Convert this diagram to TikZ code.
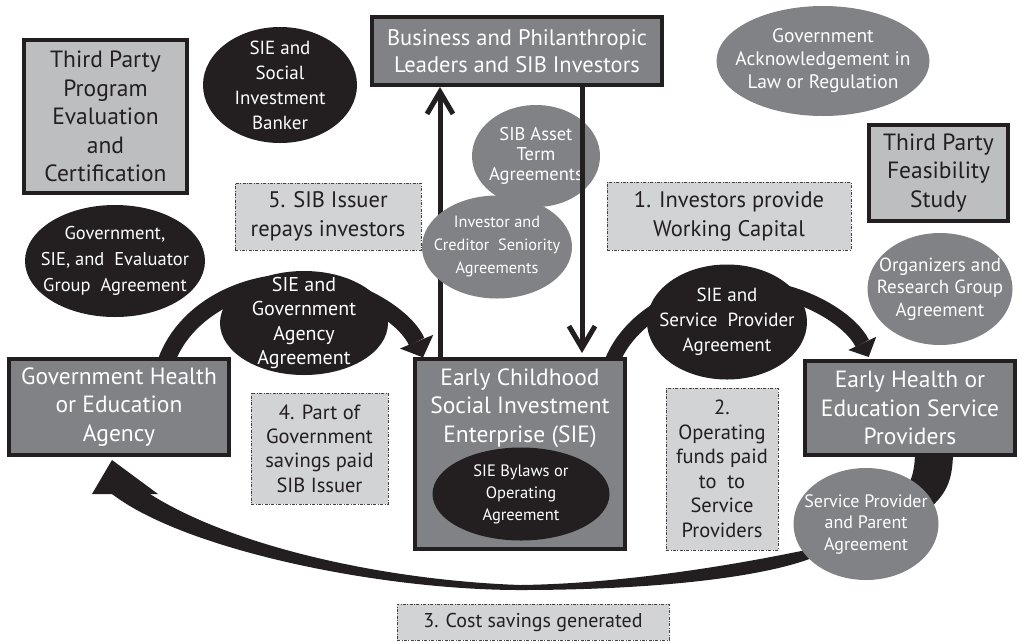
\documentclass[tikz,border=0pt]{standalone}
\usepackage{fontspec}
\setmainfont{PT Sans}
\usetikzlibrary{shapes.geometric,arrows.meta,backgrounds}

\definecolor{ink}{RGB}{35,31,32}
\definecolor{darkbox}{RGB}{128,130,133}
\definecolor{lightbox}{RGB}{188,190,192}
\definecolor{stepfill}{RGB}{209,211,212}

\begin{document}
\begin{tikzpicture}[x=1pt, y=1pt,
    darkrect/.style = {draw=ink, line width=4pt, fill=darkbox, text=white, align=center, inner sep=0pt, font=\fontsize{23.5}{28.5}\selectfont},
    lightrect/.style = {darkrect, fill=lightbox, text=ink},
    stepbox/.style = {draw=ink!85, line width=0.8pt, dash pattern=on 3pt off 1.5pt on 0.8pt off 1.5pt, fill=stepfill, text=ink, align=center, inner sep=0pt, font=\fontsize{22.5}{29}\selectfont},
    blackoval/.style = {ellipse, draw=ink, line width=3pt, fill=ink, text=white, align=center, inner xsep=-30pt, inner ysep=-20pt, font=\fontsize{19}{25}\selectfont},
    greyoval/.style = {blackoval, draw=none, fill=darkbox},
    loop arrow/.style = {ink, line width=17pt, -{Triangle[width=36pt,length=17pt,line width=0pt 0]}},
    flow/.style = {ink, line width=5pt, -{Straight Barb[length=22pt,width=26pt]}}]

    \useasboundingbox (0,0) rectangle (1019,-641);

    % boxes
    \node[lightrect, minimum width=163, minimum height=153] (evaluation) at (105.5,-116.5) {Third Party\\Program\\Evaluation\\and\\Certification};
    \node[darkrect, minimum width=290, minimum height=68, font=\fontsize{22.5}{27}\selectfont] (investors) at (517,-51) {Business and Philanthropic\\Leaders and SIB Investors};
    \node[lightrect, minimum width=139, minimum height=96] (feasibility) at (938.5,-173) {Third Party\\Feasibility\\Study};
    \node[darkrect, minimum width=220, minimum height=96] (agency) at (119,-407) {Government Health\\or Education\\Agency};
    \node[darkrect, minimum width=210, minimum height=190] (sie) at (520,-454) {};
    \node[text=white, align=center, font=\fontsize{23.5}{28.5}\selectfont] (sietitle) at ([yshift=-51pt]sie.north) {Early Childhood\\Social Investment\\Enterprise (SIE)};
    \node[darkrect, minimum width=210, minimum height=94] (providers) at (910,-408) {Early Health or\\Education Service\\Providers};

    % money up
    \coordinate (uplane) at (440,0);
    \coordinate (downlane) at (582,0);
    \draw[flow] (sie.north -| uplane) -- (investors.south -| uplane);

    % agreements
    \node[blackoval, minimum width=151, minimum height=113] (banker) at (280,-85) {SIE and\\Social\\Investment\\Banker};
    \node[blackoval, minimum width=177, minimum height=109, font=\fontsize{18.5}{26}\selectfont] (evalgroup) at (115,-261) {Government,\\SIE, and~ Evaluator\\Group~ Agreement};
    \node[blackoval, minimum width=165, minimum height=101, font=\fontsize{20}{24.5}\selectfont] (agencydeal) at (304,-323) {SIE and\\Government\\Agency\\Agreement};
    \node[blackoval, minimum width=157, minimum height=112] (providerdeal) at (727,-322) {SIE and\\Service~ Provider\\Agreement};
    \node[blackoval, minimum width=174, minimum height=90, font=\fontsize{16.5}{22}\selectfont] (bylaws) at (521,-494) {SIE Bylaws or\\Operating\\Agreement};

    \node[greyoval, minimum width=213, minimum height=110, font=\fontsize{19.5}{23}\selectfont] (acknowledge) at (823,-61) {Government\\Acknowledgement in\\Law or Regulation};
    \node[greyoval, minimum width=128, minimum height=102, font=\fontsize{18.5}{20}\selectfont] (assetterm) at (536,-156) {SIB Asset\\Term\\Agreements};
    \node[greyoval, minimum width=150, minimum height=103, font=\fontsize{16.3}{23}\selectfont] (seniority) at (497,-247) {Investor and\\Creditor~ Seniority\\Agreements};
    \node[greyoval, minimum width=145, minimum height=112, font=\fontsize{19}{22.5}\selectfont] (organizers) at (940,-289) {Organizers and\\Research Group\\Agreement};
    \node[greyoval, minimum width=145, minimum height=112, font=\fontsize{18}{21.5}\selectfont] (parentdeal) at (866,-524) {Service Provider\\and Parent\\Agreement};

    % money down
    \draw[flow] (investors.south -| downlane) -- ([yshift=4pt]sie.north -| downlane);

    % steps
    \node[stepbox, minimum width=186, minimum height=67] (repay) at (328,-216.5) {5. SIB Issuer\\repays investors};
    \node[stepbox, minimum width=244, minimum height=68] (capital) at (729,-216) {1. Investors provide\\Working Capital};
    \node[stepbox, minimum width=137, minimum height=111, font=\fontsize{20.5}{24.3}\selectfont] (savingspaid) at (319.5,-448.5) {4. Part of\\Government\\savings paid\\SIB Issuer};
    \node[stepbox, minimum width=112, minimum height=162, font=\fontsize{20.5}{24.5}\selectfont] (operating) at (722,-469) {2.\\Operating\\funds paid\\to~ to\\Service\\Providers};
    \node[stepbox, minimum width=272, minimum height=36, font=\fontsize{20}{24}\selectfont] (costsavings) at (533,-622) {3. Cost savings generated};

    \begin{pgfonlayer}{background}
        \draw[loop arrow] ([xshift=47pt,yshift=-5pt]agency.north) arc[start angle=164, end angle=18.5, x radius=134.6, y radius=110];
        \draw[loop arrow, line width=15pt, -{Triangle[width=31pt,length=15pt,line width=0pt 0]}] ([xshift=-17pt,yshift=-10pt]sie.north east) arc[start angle=165, end angle=20.6, x radius=136, y radius=108];

        % savings back to the agency
        \fill[ink] (112,-494)
            .. controls (185,-550) and (380,-590) .. (520,-590)
            .. controls (650,-590) and (760,-578) .. (812,-558)
            -- (930,-508)
            .. controls (948,-492) and (953,-478) .. (953,-450)
            -- (915,-450)
            .. controls (915,-470) and (912,-480) .. (905,-490)
            -- (806,-550)
            .. controls (700,-572) and (600,-584) .. (520,-585)
            .. controls (380,-580) and (230,-545) .. (150,-494)
            -- cycle;
        \fill[ink] (112,-460) -- (92,-494) -- (158,-494) -- cycle;
    \end{pgfonlayer}
\end{tikzpicture}
\end{document}
